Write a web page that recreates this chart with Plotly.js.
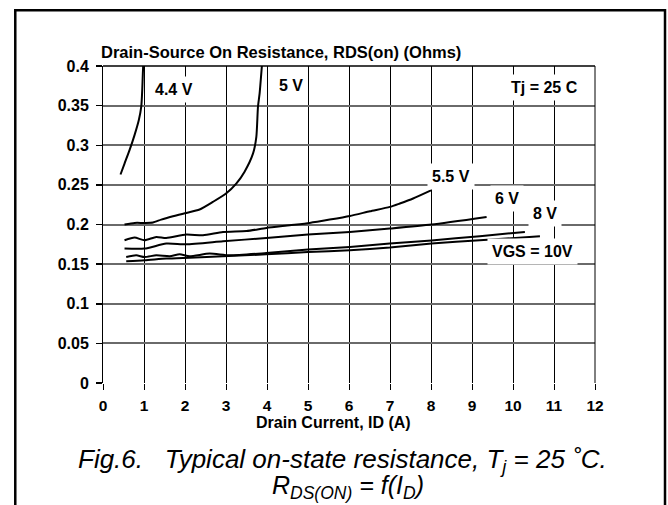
<!DOCTYPE html>
<html>
<head>
<meta charset="utf-8">
<script src="https://cdn.plot.ly/plotly-3.0.1.min.js"></script>
<style>html,body{margin:0;padding:0;background:#fff;}#chart{width:668px;height:505px;}</style>
</head>
<body>
<div id="chart"></div>
<script>
// Drain current ID (A) and on-resistance RDS(on) (Ohms)
const vgs44_x = [0.427, 0.525, 0.647, 0.769, 0.874, 0.933, 0.957, 0.972, 0.981];
const vgs44_y = [0.2631, 0.2769, 0.2938, 0.3128, 0.3318, 0.3486, 0.3697, 0.3907, 0.4010];

const vgs5_x = [0.525, 0.769, 1.013, 1.217, 1.42, 1.705, 2.03, 2.355, 2.68, 3.0, 3.25, 3.45, 3.66, 3.74, 3.78, 3.82, 3.877];
const vgs5_y = [0.1999, 0.2020, 0.2020, 0.2025, 0.2062, 0.2104, 0.2146, 0.2189, 0.2285, 0.2391, 0.2517, 0.2664, 0.2897, 0.3106, 0.3486, 0.3655, 0.4013];

const vgs55_x = [0.525, 0.769, 1.013, 1.298, 1.542, 2.03, 2.44, 2.926, 3.50, 3.984, 4.554, 5.04, 5.53, 6.02, 6.51, 6.995, 7.239, 7.564, 8.013];
const vgs55_y = [0.1801, 0.1835, 0.1801, 0.1843, 0.1830, 0.1873, 0.1864, 0.1906, 0.1918, 0.1956, 0.1990, 0.2020, 0.2062, 0.2108, 0.2167, 0.2222, 0.2265, 0.2328, 0.2433];

const vgs6_x = [0.525, 1.013, 1.542, 2.03, 2.926, 3.984, 5.0, 6.02, 6.995, 8.013, 9.356];
const vgs6_y = [0.1696, 0.1696, 0.1759, 0.1750, 0.1788, 0.1830, 0.1873, 0.1906, 0.1949, 0.1999, 0.2095];

const vgs8_x = [0.566, 0.81, 1.013, 1.30, 1.63, 1.87, 2.11, 2.60, 3.09, 3.984, 5.0, 6.02, 6.995, 8.013, 9.19, 10.29];
const vgs8_y = [0.1590, 0.1611, 0.1590, 0.1611, 0.1599, 0.1624, 0.1599, 0.1633, 0.1611, 0.1640, 0.1683, 0.1716, 0.1759, 0.1798, 0.1853, 0.1906];

const vgs10_x = [0.566, 1.013, 1.542, 2.112, 2.926, 3.984, 5.0, 6.018, 6.995, 8.013, 9.19, 10.657];
const vgs10_y = [0.1536, 0.1548, 0.1570, 0.1582, 0.1599, 0.1624, 0.1653, 0.1675, 0.1709, 0.1760, 0.1801, 0.1851];

const curveLabels = ['4.4 V', '5 V', '5.5 V', '6 V', '8 V', 'VGS = 10V', 'Tj = 25 C'];
const labelX = [1.733, 4.595, 8.484, 9.851, 10.779, 10.474, 10.77];
const labelY = [0.3709, 0.3760, 0.2601, 0.2332, 0.2142, 0.1662, 0.3735];

const xTicks = [0,1,2,3,4,5,6,7,8,9,10,11,12];
const yTicks = [0, 0.05, 0.1, 0.15, 0.2, 0.25, 0.3, 0.35, 0.4];
const yTickText = ['0', '0.05', '0.1', '0.15', '0.2', '0.25', '0.3', '0.35', '0.4'];

const chartTitle = 'Drain-Source On Resistance, RDS(on) (Ohms)';
const xTitle = 'Drain Current, ID (A)';
const caption1 = 'Fig.6.   Typical on-state resistance, T<sub>j</sub> = 25 \u02DAC.';
const caption2 = 'R<sub>DS(ON)</sub> = f(I<sub>D</sub>)';

const FONT = '"Liberation Sans", Arial, Helvetica, sans-serif';
const BOLD = {family: FONT, size: 16, color: '#000', weight: 'bold'};

const series = [
  [vgs44_x, vgs44_y], [vgs5_x, vgs5_y], [vgs55_x, vgs55_y],
  [vgs6_x, vgs6_y], [vgs8_x, vgs8_y], [vgs10_x, vgs10_y]
];
const traces = series.map(s => ({
  x: s[0], y: s[1], type: 'scatter', mode: 'lines',
  line: {color: '#000', width: 2, shape: 'spline', smoothing: 0.6},
  hoverinfo: 'skip', showlegend: false
}));

const annotations = curveLabels.map((t, i) => ({
  x: labelX[i], y: labelY[i], xref: 'x', yref: 'y', text: t, showarrow: false,
  font: BOLD, bgcolor: '#fff', borderpad: 4, xanchor: 'center', yanchor: 'middle'
}));
annotations.push(
  {x: -0.0061, y: 1.0426, xref: 'paper', yref: 'paper', text: chartTitle, showarrow: false,
   font: {family: FONT, size: 16.5, color: '#000', weight: 'bold'}, xanchor: 'left', yanchor: 'middle', borderpad: 0},
  {x: 0.4695, y: -0.126, xref: 'paper', yref: 'paper', text: xTitle, showarrow: false,
   font: BOLD, xanchor: 'center', yanchor: 'middle', borderpad: 0},
  {x: 0.4878, y: -0.246, xref: 'paper', yref: 'paper', text: caption1, showarrow: false,
   font: {family: FONT, size: 26, color: '#000', style: 'italic'}, xanchor: 'center', yanchor: 'middle', borderpad: 0},
  {x: 0.498, y: -0.327, xref: 'paper', yref: 'paper', text: caption2, showarrow: false,
   font: {family: FONT, size: 25, color: '#000', style: 'italic'}, xanchor: 'center', yanchor: 'middle', borderpad: 0}
);

const layout = {
  width: 668, height: 505,
  margin: {l: 103, r: 73, t: 66, b: 122, pad: 0},
  paper_bgcolor: '#fff', plot_bgcolor: '#fff',
  showlegend: false,
  xaxis: {
    range: [0, 12], tickvals: xTicks, ticktext: xTicks.map(String),
    showgrid: true, gridcolor: '#000', gridwidth: 1, zeroline: false,
    showline: false, ticks: 'outside', ticklen: 6, tickwidth: 1, tickcolor: '#000',
    ticklabelstandoff: 2,
    tickfont: {family: FONT, size: 15.5, color: '#000', weight: 'bold'}, fixedrange: true
  },
  yaxis: {
    range: [0, 0.4], tickvals: yTicks, ticktext: yTickText,
    showgrid: true, gridcolor: '#6a6a6a', gridwidth: 2, zeroline: false,
    showline: true, linecolor: '#000', linewidth: 1,
    ticks: 'outside', ticklen: 6, tickwidth: 1.5, tickcolor: '#000',
    ticklabelstandoff: 4,
    tickfont: {family: FONT, size: 16, color: '#000', weight: 'bold'}, fixedrange: true
  },
  shapes: [
    {type: 'line', xref: 'paper', yref: 'paper', x0: 0, x1: 1, y0: 1, y1: 1, line: {color: '#000', width: 1.5}},
    {type: 'line', xref: 'paper', yref: 'paper', x0: 1, x1: 1, y0: 0, y1: 1, line: {color: '#000', width: 1}},
    {type: 'rect', xref: 'paper', yref: 'paper', x0: -0.1783, x1: 1.1423, y0: -0.45, y1: 1.1757,
     line: {color: '#000', width: 2.5}, layer: 'above'}
  ],
  annotations: annotations
};

Plotly.newPlot('chart', traces, layout, {displayModeBar: false, staticPlot: true});
</script>
</body>
</html>
